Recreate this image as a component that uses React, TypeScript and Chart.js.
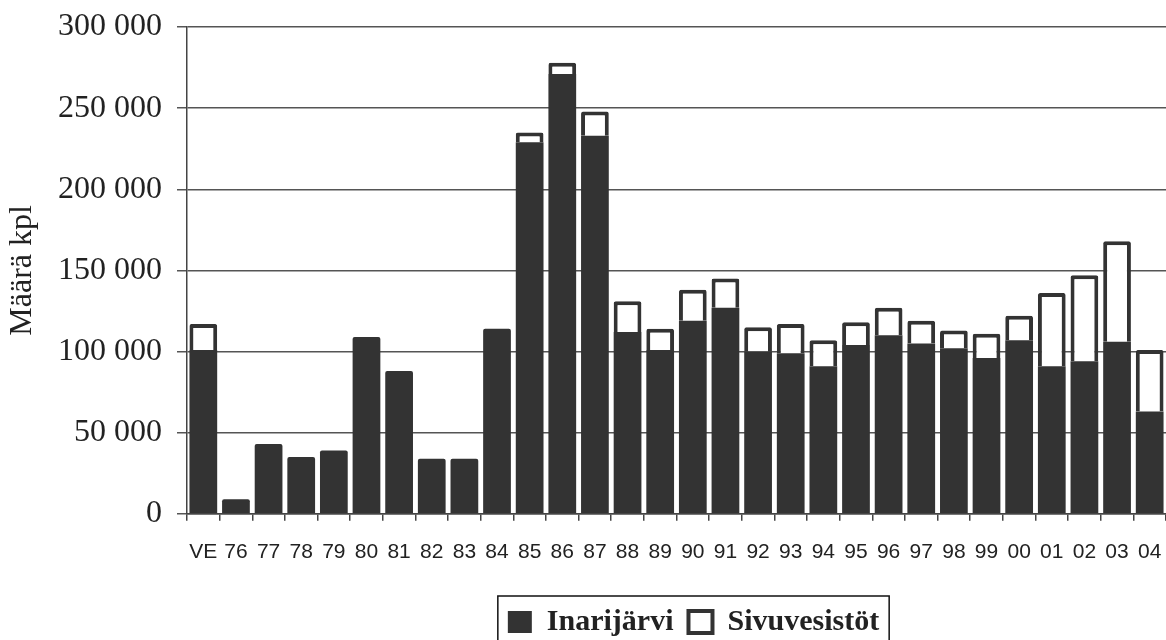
import React, { useEffect, useRef } from "react";
import { Chart, registerables } from "chart.js";

Chart.register(...registerables);

const categories = [
  "VE", "76", "77", "78", "79", "80", "81", "82", "83", "84",
  "85", "86", "87", "88", "89", "90", "91", "92", "93", "94",
  "95", "96", "97", "98", "99", "00", "01", "02", "03", "04",
];

const inarijarvi = [
  101000, 9000, 43000, 35000, 39000, 109000, 88000, 34000, 34000, 114000,
  229000, 271000, 233000, 112000, 101000, 119000, 127000, 100000, 99000, 91000,
  104000, 110000, 105000, 102000, 96000, 107000, 91000, 94000, 106000, 63000,
];

const sivuvesistot = [
  16000, null, null, null, null, null, null, null, null, null,
  6000, 7000, 15000, 19000, 13000, 19000, 18000, 15000, 18000, 16000,
  14000, 17000, 14000, 11000, 15000, 15000, 45000, 53000, 62000, 38000,
];

const yTicks = [0, 50000, 100000, 150000, 200000, 250000, 300000];

const DARK = "#333333";
const LEGEND_SHIFT = 17;

const fmt = (v: number) => String(v).replace(/\B(?=(\d{3})+(?!\d))/g, " ");

const legendBorder = {
  id: "legendBorder",
  afterLayout(chart: any) {
    if (chart.legend) chart.legend.__shifted = false;
  },
  beforeDraw(chart: any) {
    const lg = chart.legend;
    if (!lg || lg.__shifted || !lg.legendHitBoxes) return;
    lg.left += LEGEND_SHIFT;
    lg.right += LEGEND_SHIFT;
    lg.legendHitBoxes.forEach((h: any) => (h.left += LEGEND_SHIFT));
    lg.__shifted = true;
  },
  afterDraw(chart: any) {
    const lg = chart.legend;
    if (!lg || !lg.legendHitBoxes || !lg.legendHitBoxes.length) return;
    const boxes = lg.legendHitBoxes;
    const first = boxes[0];
    const last = boxes[boxes.length - 1];
    const ctx = chart.ctx;
    ctx.save();
    ctx.strokeStyle = "#111";
    ctx.lineWidth = 1.5;
    const left = first.left - 10;
    const right = last.left + last.width + 10;
    const top = first.top - 11;
    ctx.strokeRect(left, top, right - left, 200);
    ctx.restore();
  },
};

export default function App() {
  const ref = useRef<HTMLCanvasElement | null>(null);

  useEffect(() => {
    if (!ref.current) return;
    const chart = new Chart(ref.current, {
      type: "bar",
      data: {
        labels: categories,
        datasets: [
          {
            label: "Inarijärvi",
            data: inarijarvi,
            backgroundColor: DARK,
            borderColor: DARK,
            borderWidth: 0,
            borderRadius: 2,
            barPercentage: 0.85,
            categoryPercentage: 1,
          },
          {
            label: "Sivuvesistöt",
            data: sivuvesistot as any,
            backgroundColor: "#ffffff",
            borderColor: DARK,
            borderWidth: 4,
            borderRadius: 2,
            barPercentage: 0.85,
            categoryPercentage: 1,
          },
        ],
      },
      plugins: [legendBorder],
      options: {
        responsive: false,
        animation: false,
        layout: { padding: { top: 27, left: 0, right: 0, bottom: -7 } },
        plugins: {
          tooltip: { enabled: false },
          legend: {
            position: "bottom",
            fullSize: false,
            labels: {
              color: "#222",
              font: { family: "'Liberation Serif', 'Times New Roman', serif", size: 30, weight: "bold" },
              boxWidth: 24,
              boxHeight: 22,
              padding: 15,
            },
          },
        },
        scales: {
          x: {
            stacked: true,
            afterFit(scale: any) {
              scale.height += 8;
              scale.paddingLeft = 0;
              scale.paddingRight = 0;
            },
            grid: {
              display: true,
              drawOnChartArea: false,
              drawTicks: true,
              tickLength: 7,
              color: "#444",
              lineWidth: 1.5,
              offset: true,
            },
            border: { display: true, color: "#444", width: 1.5 },
            ticks: {
              color: "#222",
              padding: 19,
              autoSkip: false,
              maxRotation: 0,
              font: { family: "'Liberation Sans Narrow', 'Liberation Sans', Arial, sans-serif", size: 21 },
            },
          },
          y: {
            stacked: true,
            min: 0,
            max: 300000,
            afterFit(scale: any) {
              scale.width = 187;
              scale.paddingTop = 0;
              scale.paddingBottom = 0;
            },
            afterBuildTicks(scale: any) {
              scale.ticks = yTicks.map((v) => ({ value: v }));
            },
            grid: {
              color: "#555",
              lineWidth: 1.5,
              tickLength: 10,
            },
            border: { display: true, color: "#444", width: 1.5 },
            ticks: {
              color: "#222",
              padding: 15,
              font: { family: "'Liberation Serif', 'Times New Roman', serif", size: 32 },
              callback: (v: any) => fmt(Number(v)),
            },
            title: {
              display: true,
              text: "Määrä kpl",
              color: "#222",
              padding: { top: 3, bottom: 0 },
              font: { family: "'Liberation Serif', 'Times New Roman', serif", size: 32 },
            },
          },
        },
      },
    });
    return () => chart.destroy();
  }, []);

  return (
    <div style={{ position: "fixed", left: 0, top: 0, width: 1166, height: 640, background: "#fff" }}>
      <canvas ref={ref} width={1166} height={640} style={{ display: "block" }} />
    </div>
  );
}
